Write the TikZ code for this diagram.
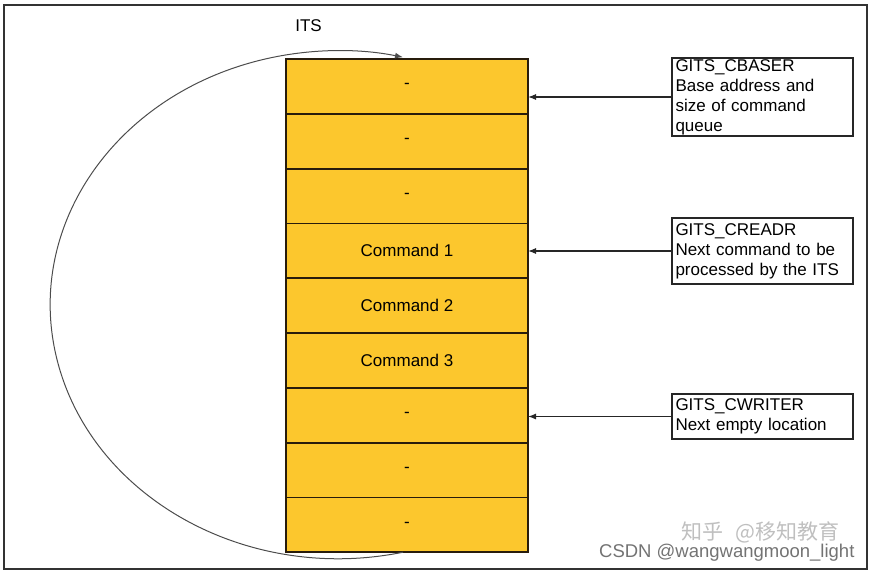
\documentclass[tikz,border=0pt]{standalone}
\usepackage{fontspec}
\setmainfont{Liberation Sans}
\newfontfamily\cjk{Noto Sans CJK SC}
\usepackage{tikz}
\usetikzlibrary{arrows.meta,positioning}
\definecolor{cellfill}{RGB}{252,199,45}
\definecolor{cellline}{RGB}{40,28,12}

\begin{document}
\begin{tikzpicture}[x=1pt,y=1pt,>={Latex[length=8pt,width=6pt]},
    every node/.style={font=\fontsize{17}{20}\selectfont},
    cell/.style={draw=cellline,line width=1.8pt,fill=cellfill,
      minimum width=242pt,minimum height=54.8pt,inner sep=0pt,outer sep=0pt},
    regbox/.style={draw=black!85,line width=1.4pt,text width=174pt,
      align=left,inner xsep=3.5pt,inner ysep=1pt}]
  \useasboundingbox (0,0) rectangle (874,-573);
  % frame
  \draw[black!80,line width=1.3pt] (4,-5) rectangle (867,-569);

  % command queue
  \foreach \i/\txt in {1/-,2/-,3/-,4/Command 1,5/Command 2,6/Command 3,7/-,8/-,9/-}
    \node[cell] (cell\i) at (407,{-31.6-54.8*\i}) {\txt};
  \node (its) at (308.5,-26) {ITS};

  % wrap around
  \draw[->,black!70,line width=1pt] ([xshift=-4pt]cell9.south)
    arc[start angle=-77,end angle=-283,x radius=288pt,y radius=254pt];

  % registers
  \node[regbox,minimum height=78pt] (cbaser) at (762.5,-97)
    {GITS\_CBASER\\Base address and\\size of command\\queue};
  \node[regbox,minimum height=66pt] (creadr) at (762.5,-251)
    {GITS\_CREADR\\Next command to be\\processed by the ITS};
  \node[regbox,minimum height=45pt] (cwriter) at (762.5,-416.5)
    {GITS\_CWRITER\\Next empty location};

  \draw[->,black!85,line width=1.1pt] (cbaser.west) -- (cbaser.west -| cell1.east);
  \draw[->,black!85,line width=1.1pt] (creadr.west) -- (creadr.west -| cell4.east);
  \draw[->,black!85,line width=1.1pt] (cwriter.west) -- (cwriter.west -| cell7.east);

  % watermarks
  \node[black!25,anchor=east,font=\cjk\fontsize{21}{22}\selectfont] (zhihu) at (843,-532) {知乎\hspace{12pt}@移知教育};
  \node[black!55,anchor=east,font=\fontsize{18.5}{20}\selectfont] (csdn) at (858,-553) {CSDN @wangwangmoon\_light};
\end{tikzpicture}
\end{document}
